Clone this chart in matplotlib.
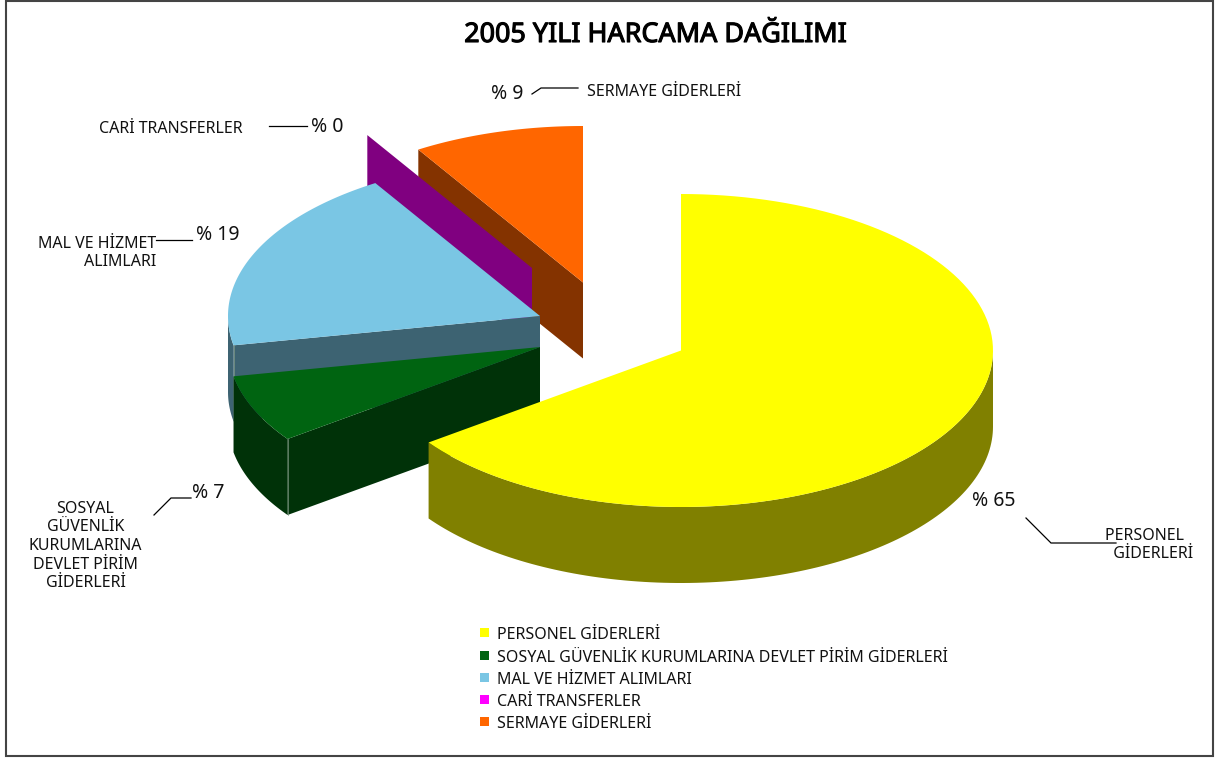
import numpy as np
import matplotlib
matplotlib.use("Agg")
import matplotlib.pyplot as plt
import matplotlib.patheffects as pe
from matplotlib.patches import Polygon, Rectangle

plt.rcParams['font.family'] = ['Noto Sans', 'DejaVu Sans']

names = ["PERSONEL GİDERLERİ", "SOSYAL GÜVENLİK KURUMLARINA DEVLET PİRİM GİDERLERİ",
         "MAL VE HİZMET ALIMLARI", "CARİ TRANSFERLER", "SERMAYE GİDERLERİ"]
values = [65, 7, 19.15, 0, 8.85]
pct_labels = ["% 65", "% 7", "% 19", "% 0", "% 9"]
top_colors = ["#ffff00", "#006411", "#7ac6e4", "#ff00ff", "#ff6600"]
side_colors = ["#808000", "#003208", "#3d6372", "#800080", "#843300"]
legend_colors = ["#ffff00", "#006411", "#7ac6e4", "#ff00ff", "#ff6600"]

# apex of every exploded slice, in pixels
centers = [(681, 350.5), (540, 347), (540, 316), (532, 268), (583, 282.5)]
rx, ry, depth = 312, 156.5, 76

name_pos = [(1149, 545), (85.5, 546), (156, 253), (171, 129), (664, 92)]
name_align = ["center", "center", "right", "center", "center"]
name_text = ["PERSONEL  \n  GİDERLERİ", "SOSYAL\nGÜVENLİK\nKURUMLARINA\nDEVLET PİRİM\nGİDERLERİ",
             "MAL VE HİZMET\nALIMLARI", "CARİ TRANSFERLER", "SERMAYE GİDERLERİ"]
pct_pos = [(994, 501), (208, 493), (218, 235), (327, 127), (507, 94)]
leaders = [([1026, 1051, 1116], [518, 543, 543]),
           ([154, 171, 191], [515, 498, 498]),
           ([156, 192], [240, 240]),
           ([269, 307], [126, 126]),
           ([532, 541, 578], [94, 88, 88])]
legend_y = [635, 658, 680, 702, 724]


def ellipse(center, a0, a1, n=120):
    t = np.radians(np.linspace(a0, a1, n))
    return np.column_stack([center[0] + rx * np.cos(t), center[1] - ry * np.sin(t)])


fig = plt.figure(figsize=(12.19, 7.59), dpi=100)
ax = fig.add_axes([0, 0, 1, 1])
ax.set_xlim(0, 1219)
ax.set_ylim(759, 0)
ax.axis("off")

ax.add_patch(Rectangle((6, 0.5), 1207, 755, fc="white", ec="#444444", lw=1.5))

# start and end angle of each slice, clockwise from the top
ends = 90 - 3.6 * np.cumsum(values)
starts = np.concatenate([[90], ends[:-1]])

# back to front so the nearer slices cover the others
for i in [4, 3, 2, 1, 0]:
    c = centers[i]
    a0, a1 = starts[i], ends[i]
    down = np.array([0, depth])
    z = 10 + (4 - i)

    # cut face along the start angle
    edge = ellipse(c, a0, a0, 1)[0]
    ax.add_patch(Polygon([c, edge, edge + down, np.array(c) + down], fc=side_colors[i], ec="none", zorder=z))

    # outer rim, only the lower half of the ellipse can be seen
    lo = max(a1, -180)
    hi = min(a0, 0)
    if hi > lo:
        arc = ellipse(c, hi, lo)
        ax.add_patch(Polygon(np.vstack([arc, arc[::-1] + down]), fc=side_colors[i], ec="none", zorder=z))

    if values[i] > 0:
        top = np.vstack([[c], ellipse(c, a0, a1)])
        ax.add_patch(Polygon(top, fc=top_colors[i], ec="none", zorder=z))

    # thin light corner line where the cut meets the rim
    if i in (1, 2):
        ax.plot([edge[0], edge[0]], [edge[1], edge[1] + depth], color="#7f9a86", lw=0.5, zorder=z)

ax.text(656, 35, "2005 YILI HARCAMA DAĞILIMI", ha="center", va="center", fontsize=19.4, color="black",
        zorder=30, path_effects=[pe.withStroke(linewidth=0.8, foreground="black")])

for i in range(len(values)):
    ax.plot(leaders[i][0], leaders[i][1], color="black", lw=0.9, zorder=30, solid_joinstyle="miter")
    ax.text(name_pos[i][0], name_pos[i][1], name_text[i], ha=name_align[i], va="center", fontsize=11.5, linespacing=1.21,
            multialignment=name_align[i], color="#111111", zorder=31)
    ax.text(pct_pos[i][0], pct_pos[i][1], pct_labels[i], ha="center", va="center", fontsize=14, color="#111111", zorder=31)
    ax.add_patch(Rectangle((480, legend_y[i] - 7), 8.5, 9, fc=legend_colors[i], ec="none", zorder=30))
    ax.text(497, legend_y[i], names[i], ha="left", va="center", fontsize=11.55, color="#111111", zorder=31)

fig.savefig("out.png", dpi=100, facecolor="white")
